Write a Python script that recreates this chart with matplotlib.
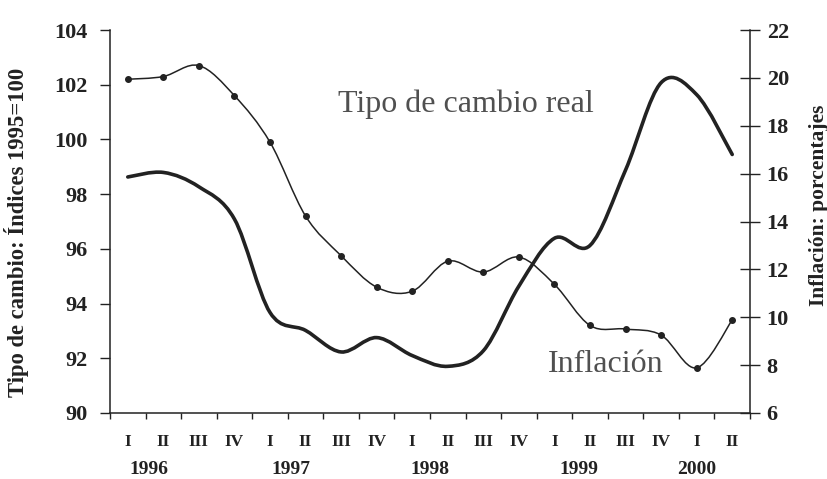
import matplotlib
matplotlib.use("Agg")
import matplotlib.pyplot as plt
import matplotlib.transforms as mtransforms
from matplotlib.path import Path
from matplotlib.patches import PathPatch
import numpy as np

# Quarterly values, 1996 Q1 .. 2000 Q2
quarters = ["I", "II", "III", "IV"] * 4 + ["I", "II"]
years = ["1996", "1997", "1998", "1999", "2000"]
tipo_cambio = [102.2, 102.3, 102.7, 101.6, 99.9, 97.2, 95.75, 94.6, 94.45,
               95.55, 95.15, 95.7, 94.7, 93.2, 93.07, 92.85, 91.65, 93.4]
inflacion = [15.86, 16.05, 15.45, 14.1, 10.2, 9.45, 8.55, 9.15, 8.4,
             7.95, 8.6, 11.3, 13.3, 13.0, 16.15, 19.8, 19.3, 16.8]

plt.rcParams['font.family'] = ['Liberation Serif', 'DejaVu Serif']
ink = '#222222'


def smooth_path(xs, ys):
    # Catmull-Rom through the points, drawn as cubic Bezier segments
    p = np.column_stack([xs, ys]).astype(float)
    p_ext = np.vstack([p[0], p, p[-1]])
    verts = [p[0]]
    codes = [Path.MOVETO]
    for i in range(len(p) - 1):
        p0, p1, p2, p3 = p_ext[i], p_ext[i + 1], p_ext[i + 2], p_ext[i + 3]
        verts += [p1 + (p2 - p0) / 6, p2 - (p3 - p1) / 6, p2]
        codes += [Path.CURVE4] * 3
    return Path(verts, codes)


x = np.arange(len(quarters))

fig = plt.figure(figsize=(8.28, 4.79), dpi=100)
ax = fig.add_axes([110 / 828, 1 - 413 / 479, 640 / 828, 383 / 479])
ax2 = ax.twinx()

# Tipo de cambio real (left axis), thin line with dots
ax.add_patch(PathPatch(smooth_path(x, tipo_cambio), fill=False, edgecolor=ink, lw=1.1))
ax.plot(x, tipo_cambio, 'o', color=ink, markersize=4)

# Inflación (right axis), thick smooth line
ax2.add_patch(PathPatch(smooth_path(x, inflacion), fill=False, edgecolor=ink, lw=2.6,
                        capstyle='round', joinstyle='round'))

ax.set_xlim(-0.5, len(quarters) - 0.5)
ax.set_ylim(90, 104)
ax2.set_ylim(6, 22)
ax.set_yticks(np.arange(90, 105, 2))
ax2.set_yticks(np.arange(6, 23, 2))

# x axis: tick marks at quarter boundaries, labels at quarter centres
ax.set_xticks(np.arange(-0.5, len(quarters), 1.0))
ax.set_xticklabels([])
ax.set_xticks(x, minor=True)
ax.set_xticklabels(quarters, minor=True, fontsize=12.5, fontweight='bold')
ax.tick_params(axis='x', which='major', direction='out', length=4, width=1, color=ink)
ax.tick_params(axis='x', which='minor', length=0, pad=15, labelcolor=ink)

ax.tick_params(axis='y', direction='out', length=7, width=1, color=ink,
               labelsize=16, labelcolor=ink, pad=9)
ax2.tick_params(axis='y', direction='inout', length=14, width=1, color=ink,
                labelsize=16, labelcolor=ink, pad=5)
for lab in ax.get_yticklabels() + ax2.get_yticklabels():
    lab.set_fontweight('bold')

for a in (ax, ax2):
    a.spines['top'].set_visible(False)
    for s in ('left', 'right', 'bottom'):
        a.spines[s].set_color(ink)
        a.spines[s].set_linewidth(1.1)
ax.spines['right'].set_visible(False)
ax2.spines['left'].set_visible(False)
ax2.spines['bottom'].set_visible(False)

# year labels under the quarters
year_pos = [0.6, 4.6, 8.5, 12.7, 16.0]
trans = mtransforms.blended_transform_factory(ax.transData, ax.transAxes)
for yp, yr in zip(year_pos, years):
    ax.text(yp, -56 / 383, yr, transform=trans, ha='center', va='center',
            fontsize=14, fontweight='bold', color=ink)

ax.set_ylabel("Tipo de cambio: Índices 1995=100", fontsize=16.3, fontweight='bold',
              color=ink)
ax.yaxis.set_label_coords(-81 / 640, 181 / 383)
ax2.set_ylabel("Inflación: porcentajes", fontsize=15.5, fontweight='bold',
               color=ink, rotation=90)
ax2.yaxis.set_label_coords(699 / 640, 208 / 383)

ax.text(228 / 640, 301 / 383, "Tipo de cambio real", transform=ax.transAxes,
        fontsize=23, color='#505050', va='baseline', ha='left')
ax.text(438 / 640, 41 / 383, "Inflación", transform=ax.transAxes,
        fontsize=23, color='#505050', va='baseline', ha='left')

fig.savefig("out.png", dpi=100)
